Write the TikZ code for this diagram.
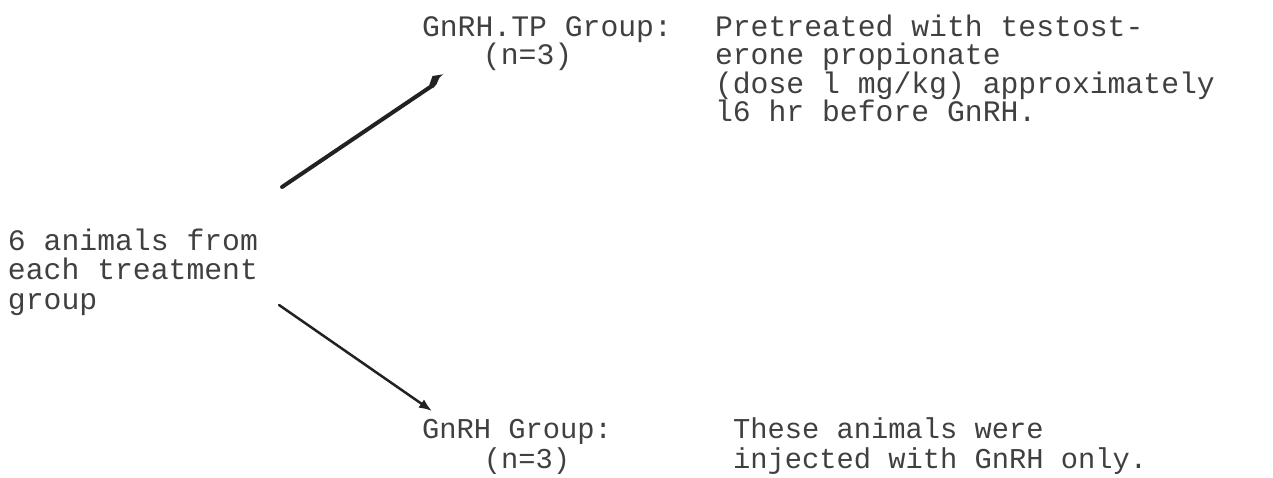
\documentclass[tikz,border=0pt]{standalone}
\usepackage{fontspec}
\setmonofont{Liberation Mono}
\usetikzlibrary{arrows.meta}
\definecolor{ink}{HTML}{404040}
\definecolor{penline}{HTML}{222222}
% a block of typed lines whose baseline is that of its first line
\newcommand{\typedlines}[2]{\vtop{\baselineskip=#1\lineskiplimit=-100pt\lineskip=0pt #2}}
\tikzset{
  typed/.style={anchor=base west, inner sep=0pt, outer sep=0pt, text=ink,
    font=\ttfamily\fontsize{#1}{29}\selectfont},
  typed/.default=29.75,
  penarrow/.style={draw=penline, line width=2.5pt, line cap=round,
    -{Latex[length=13pt,width=10pt]}},
  heavyline/.style={draw=penline, line width=4pt, line cap=round},
}
\begin{document}
\begin{tikzpicture}[x=1pt,y=-1pt]
\useasboundingbox (0,0) rectangle (1273,477);

% source of the split
\node[typed] (src) at (8,250)
  {\typedlines{29.5pt}{\hbox{6 animals from}\hbox{each treatment}\hbox{group}}};

% upper group
\node[typed] (tplab) at (422,36)
  {\typedlines{28.6pt}{\hbox{GnRH.TP Group:}\hbox{\hskip2.05em(n=3)}}};
\node[typed] (tpdesc) at (715,36)
  {\typedlines{28.6pt}{\hbox{Pretreated with testost-}\hbox{erone propionate}%
   \hbox{(dose l mg/kg) approximately}\hbox{l6 hr before GnRH.}}};

% lower group
\node[typed=28.75] (glab) at (422,438)
  {\typedlines{30pt}{\hbox{GnRH Group:}\hbox{\hskip2.15em(n=3)}}};
\node[typed=28.75] (gdesc) at (733,438)
  {\typedlines{30pt}{\hbox{These animals were}\hbox{injected with GnRH only.}}};

% arrow ends
\coordinate (tptip) at ([shift={(21.3,38.3)}]tplab.base west);
\coordinate (gtip) at ([shift={(10,-27)}]glab.base west);

% heavy arrow with a hooked head
\draw[heavyline] ([shift={(24.1,-63)}]src.base east) -- ([shift={(-12,12)}]tptip);
\fill[penline] ([shift={(-14,10.7)}]tptip) -- ([shift={(-10.8,1.7)}]tptip)
  -- (tptip) .. controls ([shift={(-4,3)}]tptip) .. ([shift={(-6.6,9.7)}]tptip)
  -- ([shift={(-10.3,14)}]tptip) -- cycle;

% light arrow with a small triangular head
\draw[penarrow] ([shift={(21.1,55)}]src.base east) -- (gtip);
\end{tikzpicture}
\end{document}
